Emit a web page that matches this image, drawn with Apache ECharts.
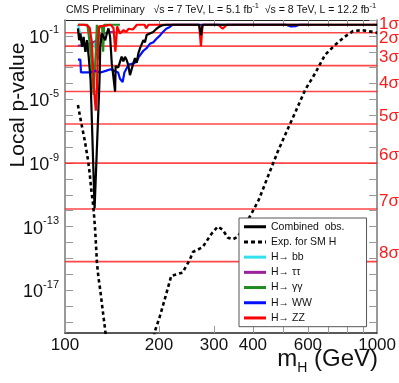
<!DOCTYPE html>
<html>
<head>
<meta charset="utf-8">
<script src="https://cdn.jsdelivr.net/npm/echarts@6/dist/echarts.min.js"></script>
<style>
html, body { margin: 0; padding: 0; background: #fff; }
#chart { width: 399px; height: 383px; }
</style>
</head>
<body>
<div id="chart"></div>
<script>
// masses in GeV, values are log10 of the local p-value
const combinedMass = [110, 111, 112, 113.4, 114.7, 116.2, 117.6, 119.1, 120.8, 124.4, 125.9, 129, 129.7, 131.3, 132.8, 134.5, 136.2, 137.8, 139.5, 141.2, 142.9, 144.7, 145.3, 146.5, 148, 150.1, 151.9, 153.8, 155.7, 157.5, 159.5, 161.5, 163.5, 165.5, 167.6, 169.7, 171.8, 173.9, 176, 178.3, 180.5, 182.6, 185, 187, 189, 191.7, 196.4, 201.2, 206, 211, 250, 269, 272.6, 276, 300, 400, 500, 600, 700, 800, 900, 1000];
const combinedLogP = [-0.53, -1.27, -0.85, -1.69, -1.06, -2.0, -1.27, -2.3, -3.8, -11.85, -11.85, -3.8, -1.69, -0.85, -1.06, -1.27, -0.85, -0.53, -1.06, -2.73, -3.57, -4.5, -2.9, -2.84, -3.0, -2.95, -2.3, -2.6, -2.32, -2.5, -2.84, -3.47, -3.4, -2.73, -2.4, -2.7, -2.1, -1.79, -1.9, -1.27, -1.4, -0.95, -1.05, -0.85, -0.95, -0.75, -0.55, -0.4, -0.32, -0.3, -0.3, -0.3, -0.95, -0.3, -0.3, -0.3, -0.3, -0.3, -0.3, -0.3, -0.3, -0.3];

const expectedMass = [110, 112.8, 115.6, 118.5, 119.9, 121.4, 122.9, 123.8, 125, 126.6, 128, 129.7, 132.9, 134.5, 137, 190, 194, 201, 210, 219, 238, 251, 257, 276, 293.6, 308.6, 320, 332.6, 345, 357.5, 380, 402, 418, 450, 480, 519, 550, 588, 633, 681, 732, 787, 837, 893, 968, 1000];
const expectedLogP = [-5.35, -6.5, -7.55, -8.8, -9.6, -10.7, -11.5, -12.2, -13.3, -15.3, -16.2, -17.0, -18.7, -19.5, -21, -21, -19.6, -18.7, -17.4, -16.1, -15.9, -15.1, -14.6, -14.3, -13.5, -13.0, -13.2, -13.7, -13.8, -13.65, -12.8, -11.95, -11.3, -9.7, -8.3, -6.8, -5.7, -4.4, -3.36, -2.2, -1.58, -1.06, -0.7, -0.64, -0.75, -0.8];

const bbMass = [110, 111, 113, 115, 117, 120, 121, 122, 124, 126, 129, 130, 132, 135];
const bbLogP = [-0.3, -0.4, -1.1, -1.6, -1.95, -1.95, -1.0, -1.4, -1.5, -1.9, -1.95, -0.9, -0.85, -0.85];

const tautauMass = [110, 113, 117, 120, 123, 126, 129, 132, 136, 140, 145];
const tautauLogP = [-1.6, -1.6, -1.55, -1.45, -1.4, -1.3, -1.05, -0.85, -0.8, -0.75, -0.75];

const gamgamMass = [110, 118, 119.5, 121, 123.5, 124.5, 125.5, 126.5, 127.5, 128.5, 131.5, 132.5, 133.5, 150];
const gamgamLogP = [-0.3, -0.3, -0.35, -2.0, -4.7, -4.7, -2.0, -0.3, -2.5, -0.5, -0.4, -2.0, -0.3, -0.3];

const wwMass = [110, 112, 112.5, 115, 120, 125, 130, 135, 140, 148, 150, 153, 155, 160, 165, 170, 172, 178, 183, 187, 192, 196, 201, 206, 211, 216, 221, 300, 510, 530, 550, 565, 600];
const wwLogP = [-2.5, -2.5, -3.3, -3.3, -3.3, -3.2, -3.3, -3.2, -3.1, -3.3, -3.7, -3.9, -3.3, -2.8, -2.75, -2.6, -2.35, -1.95, -1.75, -1.5, -1.4, -1.2, -1.0, -0.75, -0.55, -0.45, -0.3, -0.3, -0.3, -0.4, -0.38, -0.3, -0.3];

const zzMass = [110, 115, 118, 120, 122, 124, 125.5, 126.5, 127.5, 128.5, 130, 135, 140, 143, 145, 147, 149, 150, 152, 154, 157, 160, 165, 170, 180, 182, 185, 269, 272.6, 276, 281, 310, 320, 330, 1000];
const zzLogP = [-0.3, -0.3, -0.35, -0.5, -1.5, -4.5, -5.7, -4.5, -1.5, -0.4, -0.3, -0.35, -0.3, -0.5, -2.0, -0.4, -0.3, -0.85, -0.95, -0.64, -0.75, -0.55, -0.6, -0.3, -0.3, -0.53, -0.3, -0.3, -1.65, -0.3, -0.3, -0.3, -0.55, -0.3, -0.3];

const sigmaNames = ['1σ', '2σ', '3σ', '4σ', '5σ', '6σ', '7σ', '8σ'];
const sigmaP = [0.1587, 0.02275, 1.35e-3, 3.17e-5, 2.87e-7, 9.87e-10, 1.28e-12, 6.22e-16];

const xLabels = [100, 200, 300, 400, 600, 1000];
const xTicks = [100, 200, 300, 400, 500, 600, 700, 800, 900, 1000];
const yLabels = [1, 1e-1, 1e-5, 1e-9, 1e-13, 1e-17];
const yTicks = [1, 1e-1, 1e-2, 1e-3, 1e-4, 1e-5, 1e-6, 1e-7, 1e-8, 1e-9, 1e-10, 1e-11, 1e-12, 1e-13, 1e-14, 1e-15, 1e-16, 1e-17, 1e-18, 1e-19];

function pairs(mass, logp) {
    return mass.map((m, i) => [m, Math.pow(10, logp[i])]);
}

const FONT = '"Liberation Sans", Arial, sans-serif';
const chart = echarts.init(document.getElementById('chart'));

function yLabel(v) {
    const e = Math.round(Math.log10(v));
    if (e === 0) return '{b|1}';
    return '{b|10}{s|' + e + '}';
}

const xBase = {
    type: 'log', logBase: 10, min: 100, max: 1000,
    splitLine: { show: false }
};
const yBase = {
    type: 'log', logBase: 10, min: 2e-20, max: 1,
    splitLine: { show: false }
};

// legend icons: a plain bar and a dashed bar
const solidIcon = 'path://M0,0H22V3H0Z';
const dashedIcon = 'path://M0,0H4V3H0Z M7,0H11V3H7Z M14,0H18V3H14Z M21,0H22V3H21Z';

const sigmaSeries = sigmaNames.map((n, i) => ({
    name: n, type: 'line', symbol: 'none', silent: true, z: 1,
    data: [[100, sigmaP[i]], [1000, sigmaP[i]]],
    lineStyle: { color: 'rgba(255,25,25,0.8)', width: 1.6 },
    endLabel: {
        show: true, formatter: n, color: '#ff1a1a', fontSize: 17, fontFamily: FONT,
        distance: 2, offset: [0, -8]
    }
}));

const option = {
    animation: false,
    textStyle: { fontFamily: FONT },
    grid: { left: 65, right: 20, top: 20, bottom: 50 },
    xAxis: [
        Object.assign({}, xBase, {
            position: 'bottom',
            axisLine: { show: true, lineStyle: { color: '#222', width: 1.5 } },
            axisTick: { show: true, inside: true, length: 7, customValues: xTicks, lineStyle: { color: '#999' } },
            axisLabel: {
                customValues: xLabels, color: '#111', fontSize: 17, margin: 4,
                formatter: v => String(Math.round(v))
            }
        }),
        Object.assign({}, xBase, {
            position: 'top',
            axisLine: { show: true, lineStyle: { color: '#222', width: 1 } },
            axisTick: { show: true, inside: true, length: 7, customValues: xTicks, lineStyle: { color: '#999' } },
            axisLabel: { show: false }
        })
    ],
    yAxis: [
        Object.assign({}, yBase, {
            position: 'left',
            axisLine: { show: true, lineStyle: { color: '#777', width: 1.5 } },
            axisTick: { show: true, inside: true, length: 8, customValues: yTicks, lineStyle: { color: '#999' } },
            axisLabel: {
                customValues: yLabels, margin: 6, color: '#111',
                formatter: yLabel,
                rich: {
                    b: { fontSize: 18, fontFamily: FONT, color: '#111', lineHeight: 22, verticalAlign: 'bottom' },
                    s: { fontSize: 11, fontFamily: FONT, color: '#111', lineHeight: 22, verticalAlign: 'top' }
                }
            }
        }),
        Object.assign({}, yBase, {
            position: 'right',
            axisLine: { show: true, lineStyle: { color: '#777', width: 1.5 } },
            axisTick: { show: true, inside: true, length: 8, customValues: yTicks, lineStyle: { color: '#999' } },
            axisLabel: { show: false }
        })
    ],
    legend: {
        orient: 'vertical',
        left: 239, top: 218,
        padding: [2, 22, 2, 5],
        itemGap: 1.7,
        itemWidth: 22, itemHeight: 11,
        backgroundColor: '#fff',
        borderColor: '#555', borderWidth: 1,
        textStyle: { fontSize: 10.5, color: '#111', fontFamily: FONT, lineHeight: 13.5 },
        data: [
            { name: 'Combined  obs.', icon: solidIcon },
            { name: 'Exp. for SM H', icon: dashedIcon },
            { name: 'H→ bb', icon: solidIcon },
            { name: 'H→ ττ', icon: solidIcon },
            { name: 'H→ γγ', icon: solidIcon },
            { name: 'H→ WW', icon: solidIcon },
            { name: 'H→ ZZ', icon: solidIcon }
        ]
    },
    graphic: [
        {
            type: 'text', left: 66, top: 2,
            style: {
                text: '{a|CMS Preliminary   √s = 7 TeV, L = 5.1 fb}{s|-1}{a|  √s = 8 TeV, L = 12.2 fb}{s|-1}',
                rich: {
                    a: { fontSize: 10.5, fontFamily: FONT, fill: '#111', lineHeight: 14, verticalAlign: 'bottom' },
                    s: { fontSize: 7.5, fontFamily: FONT, fill: '#111', lineHeight: 14, verticalAlign: 'top' }
                }
            }
        },
        {
            type: 'text', x: 18, y: 105, rotation: Math.PI / 2,
            style: {
                text: 'Local p-value', fontSize: 21, fontFamily: FONT, fill: '#111',
                align: 'center', verticalAlign: 'middle'
            }
        },
        {
            type: 'text', right: 21, top: 347,
            style: {
                text: '{a|m}{s|H}{a| (GeV)}',
                rich: {
                    a: { fontSize: 24, fontFamily: FONT, fill: '#111', lineHeight: 28, verticalAlign: 'top' },
                    s: { fontSize: 14, fontFamily: FONT, fill: '#111', lineHeight: 28, verticalAlign: 'bottom' }
                }
            }
        }
    ],
    series: sigmaSeries.concat([
        {
            name: 'Exp. for SM H', type: 'line', symbol: 'none', z: 3,
            data: pairs(expectedMass, expectedLogP),
            lineStyle: { color: '#000', width: 2.6, type: [3.5, 3] }, itemStyle: { color: '#000' }
        },
        {
            name: 'H→ bb', type: 'line', symbol: 'none', z: 4,
            data: pairs(bbMass, bbLogP),
            lineStyle: { color: '#33e0ee', width: 2 }, itemStyle: { color: '#33e0ee' }
        },
        {
            name: 'H→ ττ', type: 'line', symbol: 'none', z: 4,
            data: pairs(tautauMass, tautauLogP),
            lineStyle: { color: '#99229a', width: 2 }, itemStyle: { color: '#99229a' }
        },
        {
            name: 'H→ γγ', type: 'line', symbol: 'none', z: 4,
            data: pairs(gamgamMass, gamgamLogP),
            lineStyle: { color: '#1f8c1f', width: 2.2 }, itemStyle: { color: '#1f8c1f' }
        },
        {
            name: 'H→ WW', type: 'line', symbol: 'none', z: 4,
            data: pairs(wwMass, wwLogP),
            lineStyle: { color: '#0010ff', width: 2.2 }, itemStyle: { color: '#0010ff' }
        },
        {
            name: 'H→ ZZ', type: 'line', symbol: 'none', z: 4,
            data: pairs(zzMass, zzLogP),
            lineStyle: { color: '#ff0000', width: 2.2 }, itemStyle: { color: '#ff0000' }
        },
        {
            name: 'Combined  obs.', type: 'line', symbol: 'none', z: 5,
            data: pairs(combinedMass, combinedLogP),
            lineStyle: { color: '#000', width: 2.2 }, itemStyle: { color: '#000' }
        }
    ])
};

chart.setOption(option);
</script>
</body>
</html>
